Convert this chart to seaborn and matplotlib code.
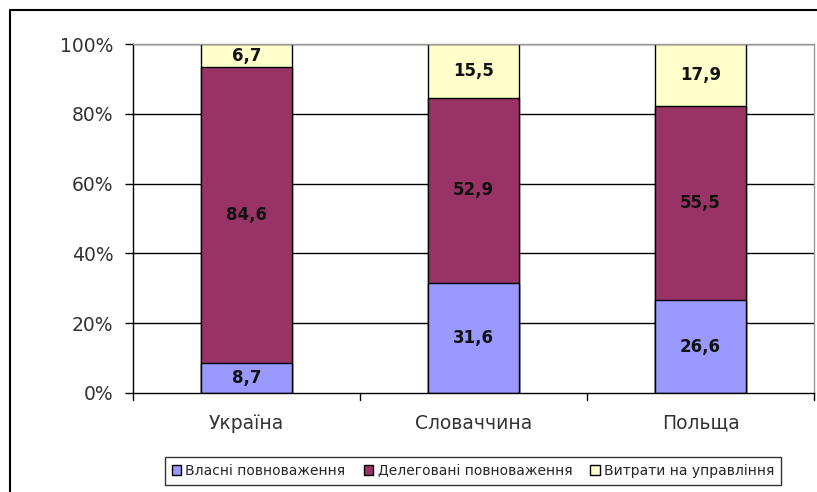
import matplotlib
matplotlib.use("Agg")
import matplotlib.pyplot as plt
import seaborn as sns
import pandas as pd
import numpy as np
from matplotlib.patches import Patch
from matplotlib.lines import Line2D

countries = ["Україна", "Словаччина", "Польща"]
own = [8.7, 31.6, 26.6]
delegated = [84.6, 52.9, 55.5]
admin = [6.7, 15.5, 17.9]
series_names = ["Власні повноваження", "Делеговані повноваження", "Витрати на управління"]
colors = ["#9999FF", "#993366", "#FFFFCC"]

sns.set_theme(style="white")
plt.rcParams['font.family'] = ['DejaVu Sans']

fig = plt.figure(figsize=(8.17, 4.92), dpi=100)
ax = fig.add_axes([133/817, 1-393/492, (814-133)/817, (393-44)/492])

df = pd.DataFrame({"country": countries, "own": own, "del": delegated, "adm": admin})
df["c1"] = df["own"]
df["c2"] = df["own"] + df["del"]
df["c3"] = df["c2"] + df["adm"]

width = 0.4
for col, colr in zip(["c3", "c2", "c1"], colors[::-1]):
    sns.barplot(data=df, x="country", y=col, color=colr, edgecolor="black",
                linewidth=1, width=width, ax=ax, saturation=1)

ax.set_ylim(0, 100)
ax.set_xlim(-0.5, 2.5)
ax.set_yticks([0, 20, 40, 60, 80, 100])
ax.set_yticklabels([f"{v}%" for v in [0, 20, 40, 60, 80, 100]], fontsize=13.5, color="#333333")
ax.set_xlabel("")
ax.set_ylabel("")
ax.tick_params(axis='x', labelsize=13.5, colors="#333333", length=0, pad=15)
ax.tick_params(axis='y', length=6, width=1, color="black", left=True, pad=8)
for v in [20, 40, 60, 80, 100]:
    ax.axhline(v, color="black", lw=1, zorder=0)
ax.set_axisbelow(True)
for s in ["top", "right"]:
    ax.spines[s].set_color("#999999")
    ax.spines[s].set_linewidth(1)
for s in ["left", "bottom"]:
    ax.spines[s].set_color("black")
    ax.spines[s].set_linewidth(1)
for xv in [-0.5, 0.5, 1.5, 2.5]:
    ax.plot([xv, xv], [0, -2], color="black", lw=1, clip_on=False)

for i in range(3):
    mids = [own[i] / 2, own[i] + delegated[i] / 2, own[i] + delegated[i] + admin[i] / 2]
    vals = [own[i], delegated[i], admin[i]]
    for m, v in zip(mids, vals):
        ax.text(i, m, f"{v:.1f}".replace(".", ","), ha="center", va="center",
                fontsize=12, fontweight="bold", color="#111111")

handles = [Patch(facecolor=c, edgecolor="black", label=n) for c, n in zip(colors, series_names)]
leg = fig.legend(handles=handles, loc="center", bbox_to_anchor=(473/817, 1-471/492),
                 ncol=3, fontsize=10, frameon=True, fancybox=False, handlelength=0.7,
                 handleheight=0.7, handletextpad=0.3, columnspacing=1.3,
                 borderpad=0.5, edgecolor="black")
leg.get_frame().set_linewidth(1)

fig.add_artist(Line2D([10/817, 1], [1-10/492, 1-10/492], transform=fig.transFigure, color="black", lw=1.5))
fig.add_artist(Line2D([10/817, 10/817], [0, 1-10/492], transform=fig.transFigure, color="black", lw=1.5))

fig.savefig("out.png", dpi=100)
